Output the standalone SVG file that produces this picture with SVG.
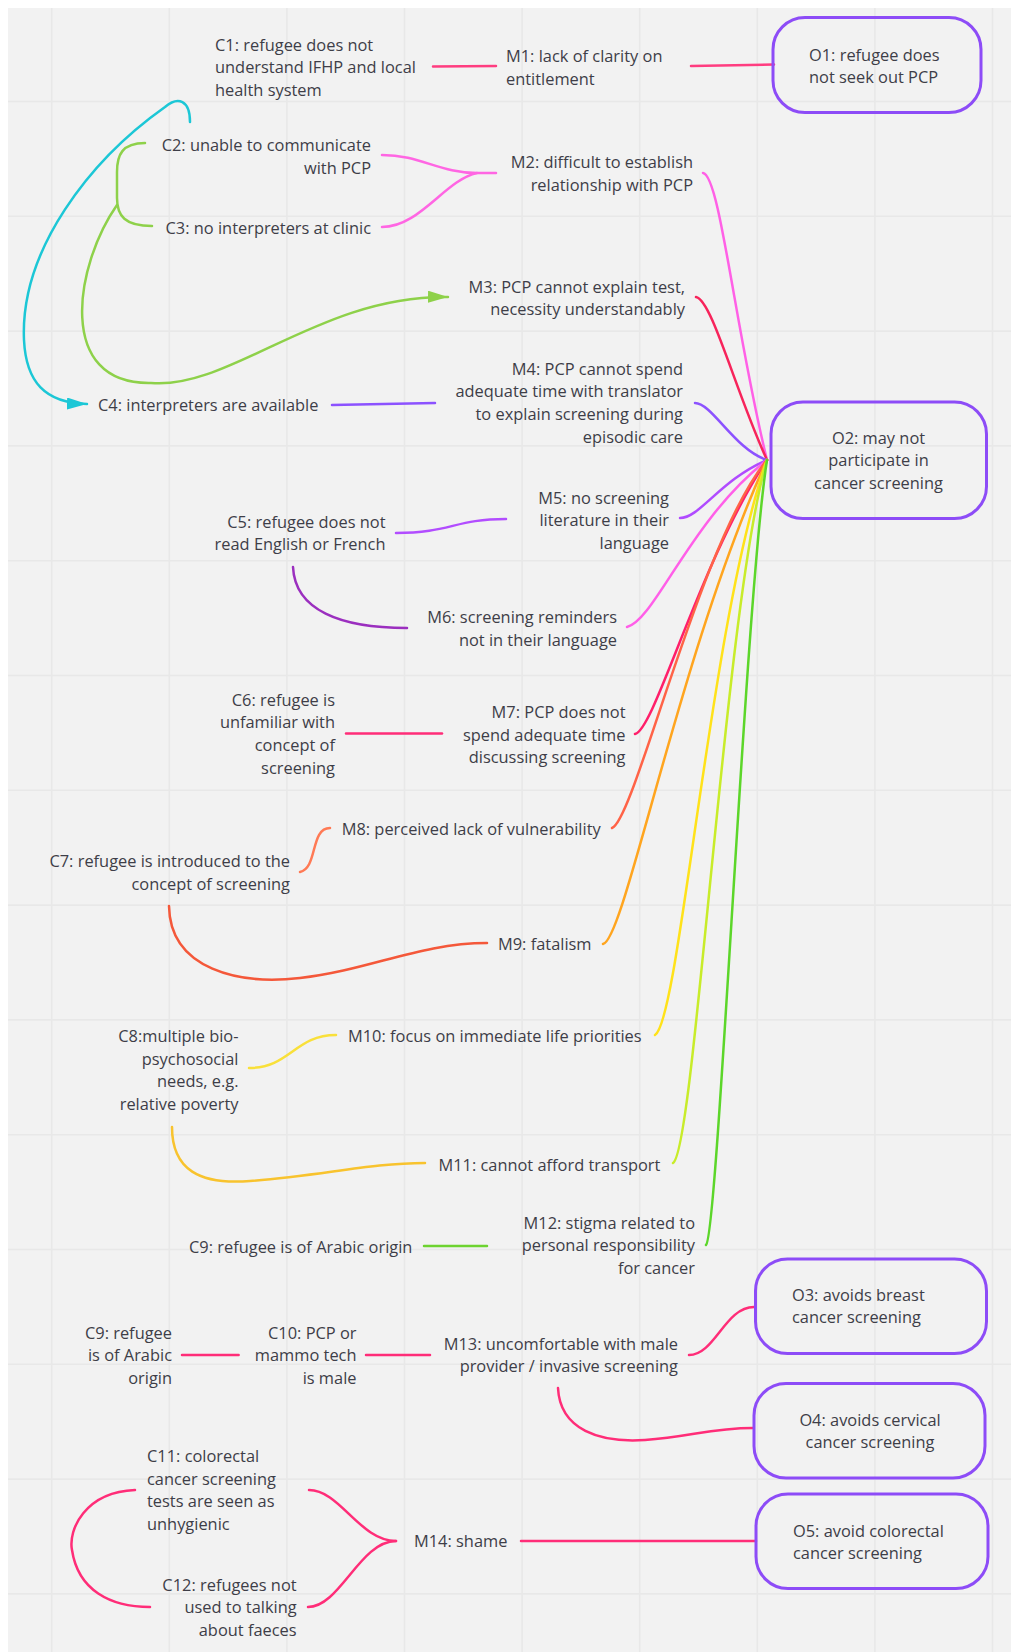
<svg xmlns="http://www.w3.org/2000/svg" width="1011" height="1652" viewBox="0 0 1011 1652">
<defs>
<style>
text{font-family:"Open Sans","Noto Sans","Liberation Sans",sans-serif;font-size:16.4px;fill:#3e3e48}
.e{text-anchor:end}.m{text-anchor:middle}
.grid line{stroke:#e8e8e8;stroke-width:1.6}
.c{fill:none;stroke-width:2.5;stroke-linecap:round}
.box{fill:none;stroke:#8d4cf7;stroke-width:3}
</style>
<marker id="ag" markerUnits="userSpaceOnUse" markerWidth="20" markerHeight="12" refX="20" refY="6" orient="auto"><path d="M0,0 L20,6 L0,12 z" fill="#8ed14a"/></marker>
<marker id="ac" markerUnits="userSpaceOnUse" markerWidth="20" markerHeight="12" refX="20" refY="6" orient="auto"><path d="M0,0 L20,6 L0,12 z" fill="#1cc7d6"/></marker>
</defs>
<rect x="0" y="0" width="1011" height="1652" fill="#ffffff"/>
<rect x="8" y="8" width="1003" height="1644" fill="#f2f2f2"/>
<g class="grid">
<line x1="51.7" y1="8" x2="51.7" y2="1652"/><line x1="169.3" y1="8" x2="169.3" y2="1652"/><line x1="286.9" y1="8" x2="286.9" y2="1652"/><line x1="404.5" y1="8" x2="404.5" y2="1652"/><line x1="522.1" y1="8" x2="522.1" y2="1652"/><line x1="639.7" y1="8" x2="639.7" y2="1652"/><line x1="757.3" y1="8" x2="757.3" y2="1652"/><line x1="874.9" y1="8" x2="874.9" y2="1652"/><line x1="992.5" y1="8" x2="992.5" y2="1652"/>
<line x1="8" y1="101.5" x2="1011" y2="101.5"/><line x1="8" y1="216.3" x2="1011" y2="216.3"/><line x1="8" y1="331.1" x2="1011" y2="331.1"/><line x1="8" y1="445.9" x2="1011" y2="445.9"/><line x1="8" y1="560.7" x2="1011" y2="560.7"/><line x1="8" y1="675.5" x2="1011" y2="675.5"/><line x1="8" y1="790.3" x2="1011" y2="790.3"/><line x1="8" y1="905.1" x2="1011" y2="905.1"/><line x1="8" y1="1019.9" x2="1011" y2="1019.9"/><line x1="8" y1="1134.7" x2="1011" y2="1134.7"/><line x1="8" y1="1249.5" x2="1011" y2="1249.5"/><line x1="8" y1="1364.3" x2="1011" y2="1364.3"/><line x1="8" y1="1479.1" x2="1011" y2="1479.1"/><line x1="8" y1="1593.9" x2="1011" y2="1593.9"/>
</g>
<g id="connectors">
<path class="c" stroke="#ff3d80" stroke-width="3" d="M433,66.5 L496,66"/>
<path class="c" stroke="#ff3d80" stroke-width="3" d="M691,66 L774,64.5"/>
<path class="c" stroke="#1cc7d6" d="M190,122 C190,100 178,96 165,107 C90,160 20,250 24,340 C26,382 45,403 87,404" marker-end="url(#ac)"/>
<path class="c" stroke="#8ed14a" d="M145,143 C122,143 117,155 117,172 L117,198 C117,216 125,226 152,226"/>
<path class="c" stroke="#8ed14a" d="M117,205 C75,265 55,385 151,383 C230,390 320,295 448,297" marker-end="url(#ag)"/>
<path class="c" stroke="#ff66e3" d="M382,155 C420,155 440,173 477,173 L496,173"/>
<path class="c" stroke="#ff66e3" d="M382,227 C420,227 445,180 477,173"/>
<path class="c" stroke="#8c52ff" stroke-width="3" d="M332,405 L435,403"/>
<path class="c" stroke="#b24dff" d="M396,533 C450,533 455,519 506,519"/>
<path class="c" stroke="#9b2fbf" d="M293,567 C295,610 340,628 407,628"/>
<path class="c" stroke="#ff2d78" stroke-width="3" d="M346,733.5 L442,733.5"/>
<path class="c" stroke="#ff7a55" d="M300,872 C318,868 310,828 330,828"/>
<path class="c" stroke="#f4583a" d="M169,906 C170,970 240,985 300,978 C370,970 420,943 487,943"/>
<path class="c" stroke="#f9e03a" d="M249,1068 C290,1068 295,1035 336,1035"/>
<path class="c" stroke="#f8c32e" d="M172,1127 C172,1170 200,1185 250,1181 C320,1176 370,1163 425,1163"/>
<path class="c" stroke="#6dd330" d="M424,1246 L487,1246"/>
<path class="c" stroke="#ff2d78" d="M182,1355 L238.6,1355"/>
<path class="c" stroke="#ff2d78" d="M366,1355 L430,1355"/>
<path class="c" stroke="#ff2d78" d="M689,1355 C715,1355 725,1307 754,1307"/>
<path class="c" stroke="#ff2d78" d="M558,1388 C560,1430 600,1443 645,1440 C690,1437 710,1428 753,1428"/>
<path class="c" stroke="#ff2d78" stroke-width="3" d="M521,1541 L756,1541"/>
<path class="c" stroke="#ff2d78" d="M309,1490 C340,1490 360,1541 396,1541"/>
<path class="c" stroke="#ff2d78" d="M308,1607 C340,1607 360,1541 396,1541"/>
<path class="c" stroke="#ff2d78" d="M135,1490 C85,1492 68,1530 72,1550 C78,1590 110,1607 150,1607"/>
<path class="c" stroke="#ff60e6" d="M703,173 C720,175 735,330 767,460"/>
<path class="c" stroke="#f7245b" d="M696,297 C712,300 735,390 767,460"/>
<path class="c" stroke="#8c52ff" d="M695,403 C712,403 735,450 767,460"/>
<path class="c" stroke="#b04bff" d="M680,518 C700,518 720,480 767,460"/>
<path class="c" stroke="#ff5fe8" d="M627,627 C655,620 690,520 767,460"/>
<path class="c" stroke="#ff1f6a" d="M635,734 C655,730 700,560 767,460"/>
<path class="c" stroke="#ff6347" d="M612,828 C635,820 700,540 767,460"/>
<path class="c" stroke="#ffa51f" d="M603,944 C625,940 680,650 767,460"/>
<path class="c" stroke="#ffe21a" d="M655,1035 C680,1020 710,620 767,460"/>
<path class="c" stroke="#c8ec2a" d="M673,1163 C695,1150 725,600 767,460"/>
<path class="c" stroke="#5cd62a" d="M706,1245 C718,1235 745,600 767,460"/>
</g>
<g id="C1"><text x="215" y="50.5">C1: refugee does not</text><text x="215" y="73.2">understand IFHP and local</text><text x="215" y="95.9">health system</text></g>
<g id="M1"><text x="506" y="62.2">M1: lack of clarity on</text><text x="506" y="84.9">entitlement</text></g>
<g id="O1"><rect class="box" x="773" y="17.5" width="208" height="95" rx="32"/><text x="809" y="60.5">O1: refugee does</text><text x="809" y="83.2">not seek out PCP</text></g>
<g id="C2"><text class="e" x="371" y="151">C2: unable to communicate</text><text class="e" x="371" y="173.7">with PCP</text></g>
<g id="C3"><text class="e" x="371" y="233.5">C3: no interpreters at clinic</text></g>
<g id="M2"><text class="e" x="693" y="168">M2: difficult to establish</text><text class="e" x="693" y="190.7">relationship with PCP</text></g>
<g id="M3"><text class="e" x="685" y="292.5">M3: PCP cannot explain test,</text><text class="e" x="685" y="315.2">necessity understandably</text></g>
<g id="M4"><text class="e" x="683" y="374.5">M4: PCP cannot spend</text><text class="e" x="683" y="397.2">adequate time with translator</text><text class="e" x="683" y="419.9">to explain screening during</text><text class="e" x="683" y="442.6">episodic care</text></g>
<g id="C4"><text x="98" y="410.5">C4: interpreters are available</text></g>
<g id="O2"><rect class="box" x="771" y="402" width="215.5" height="116.5" rx="32"/><text class="m" x="878.5" y="443.5">O2: may not</text><text class="m" x="878.5" y="466.2">participate in</text><text class="m" x="878.5" y="488.9">cancer screening</text></g>
<g id="C5"><text class="e" x="385.5" y="527.5">C5: refugee does not</text><text class="e" x="385.5" y="550.2">read English or French</text></g>
<g id="M5"><text class="e" x="669" y="503.5">M5: no screening</text><text class="e" x="669" y="526.2">literature in their</text><text class="e" x="669" y="548.9">language</text></g>
<g id="M6"><text class="e" x="617" y="623">M6: screening reminders</text><text class="e" x="617" y="645.7">not in their language</text></g>
<g id="C6"><text class="e" x="335" y="705.5">C6: refugee is</text><text class="e" x="335" y="728.2">unfamiliar with</text><text class="e" x="335" y="750.9">concept of</text><text class="e" x="335" y="773.6">screening</text></g>
<g id="M7"><text class="e" x="625.5" y="717.8">M7: PCP does not</text><text class="e" x="625.5" y="740.5">spend adequate time</text><text class="e" x="625.5" y="763.2">discussing screening</text></g>
<g id="M8"><text x="341.7" y="834.5">M8: perceived lack of vulnerability</text></g>
<g id="C7"><text class="e" x="290" y="867.2">C7: refugee is introduced to the</text><text class="e" x="290" y="889.9">concept of screening</text></g>
<g id="M9"><text x="498" y="949.8">M9: fatalism</text></g>
<g id="C8"><text class="e" x="238.5" y="1042">C8:multiple bio-</text><text class="e" x="238.5" y="1064.7">psychosocial</text><text class="e" x="238.5" y="1087.4">needs, e.g.</text><text class="e" x="238.5" y="1110.1">relative poverty</text></g>
<g id="M10"><text x="348" y="1041.5">M10: focus on immediate life priorities</text></g>
<g id="M11"><text x="438.4" y="1170.5">M11: cannot afford transport</text></g>
<g id="M12"><text class="e" x="695" y="1228.5">M12: stigma related to</text><text class="e" x="695" y="1251.2">personal responsibility</text><text class="e" x="695" y="1273.9">for cancer</text></g>
<g id="C9"><text x="189" y="1252.8">C9: refugee is of Arabic origin</text></g>
<g id="O3"><rect class="box" x="755.5" y="1259" width="231" height="94.5" rx="32"/><text x="792" y="1300.5">O3: avoids breast</text><text x="792" y="1323.2">cancer screening</text></g>
<g id="C9b"><text class="e" x="172" y="1338.5">C9: refugee</text><text class="e" x="172" y="1361.2">is of Arabic</text><text class="e" x="172" y="1383.9">origin</text></g>
<g id="C10"><text class="e" x="356.5" y="1338.5">C10: PCP or</text><text class="e" x="356.5" y="1361.2">mammo tech</text><text class="e" x="356.5" y="1383.9">is male</text></g>
<g id="M13"><text class="e" x="678" y="1349.5">M13: uncomfortable with male</text><text class="e" x="678" y="1372.2">provider / invasive screening</text></g>
<g id="O4"><rect class="box" x="754" y="1383.5" width="231" height="94.5" rx="32"/><text class="m" x="870" y="1425.5">O4: avoids cervical</text><text class="m" x="870" y="1448.2">cancer screening</text></g>
<g id="O5"><rect class="box" x="756" y="1494" width="232" height="94.5" rx="32"/><text x="793" y="1536.5">O5: avoid colorectal</text><text x="793" y="1559.2">cancer screening</text></g>
<g id="M14"><text x="414" y="1546.5">M14: shame</text></g>
<g id="C11"><text x="147" y="1462">C11: colorectal</text><text x="147" y="1484.7">cancer screening</text><text x="147" y="1507.4">tests are seen as</text><text x="147" y="1530.1">unhygienic</text></g>
<g id="C12"><text class="e" x="296.6" y="1590.5">C12: refugees not</text><text class="e" x="296.6" y="1613.2">used to talking</text><text class="e" x="296.6" y="1635.9">about faeces</text></g>
</svg>
